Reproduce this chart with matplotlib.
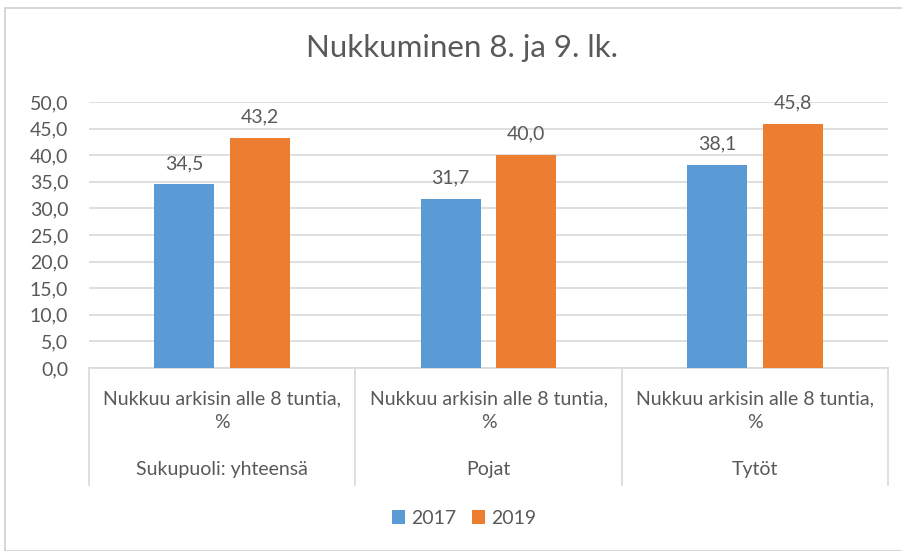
import matplotlib
matplotlib.use("Agg")
import matplotlib.pyplot as plt
from matplotlib.patches import Rectangle
from matplotlib.ticker import FuncFormatter, MultipleLocator
import numpy as np

title = "Nukkuminen 8. ja 9. lk."
groups = ["Sukupuoli: yhteensä", "Pojat", "Tytöt"]
sub_label = "Nukkuu arkisin alle 8 tuntia,\n%"
series_names = ["2017", "2019"]
values_2017 = [34.5, 31.7, 38.1]
values_2019 = [43.2, 40.0, 45.8]
colors = ["#5B9BD5", "#ED7D31"]

plt.rcParams['font.family'] = ['Lato', 'DejaVu Sans']
txt = "#595959"
fs = 14

fig = plt.figure(figsize=(9.02, 5.51), dpi=100)
fig.patches.append(Rectangle((5/902, 0.0), 1.2, 1 - 8/551, transform=fig.transFigure,
                             fill=False, edgecolor="#d0d0d0", linewidth=1.2))
ax = fig.add_axes([89/902, 1 - 368/551, (888-89)/902, (368-102)/551])

x = np.arange(len(groups))
bw = 0.225
off = 0.142
for i, (vals, c) in enumerate(zip([values_2017, values_2019], colors)):
    pos = x + (-off if i == 0 else off)
    bars = ax.bar(pos, vals, width=bw, color=c, label=series_names[i], zorder=3)
    for b, v in zip(bars, vals):
        ax.annotate(f"{v:.1f}".replace(".", ","), (b.get_x() + b.get_width()/2, v),
                    xytext=(0, 9), textcoords="offset points", ha="center", va="bottom",
                    fontsize=fs, color=txt)

ax.set_xlim(-0.5, len(groups) - 0.5)
ax.set_ylim(0, 50)
ax.yaxis.set_major_locator(MultipleLocator(5))
ax.yaxis.set_major_formatter(FuncFormatter(lambda v, p: f"{v:.1f}".replace(".", ",")))
ax.tick_params(axis="y", length=0, labelsize=fs, labelcolor=txt, pad=15)
ax.grid(axis="y", color="#d9d9d9", linewidth=1.2, zorder=0)
for s in ["top", "right", "left"]:
    ax.spines[s].set_visible(False)
ax.spines["bottom"].set_color("#d9d9d9")
ax.spines["bottom"].set_linewidth(1.2)
ax.set_xticks([])

trans = ax.get_xaxis_transform()
for k in range(len(groups) + 1):
    ax.plot([k - 0.5, k - 0.5], [0, -0.44], transform=trans, color="#d9d9d9",
            linewidth=1.2, clip_on=False)
for k, g in enumerate(groups):
    ax.text(k, -0.16, sub_label, transform=trans, ha="center", va="center",
            fontsize=fs, color=txt, linespacing=1.45)
    ax.text(k, -0.38, g, transform=trans, ha="center", va="center",
            fontsize=fs, color=txt)

fig.text(0.512, 1 - 48/551, title, ha="center", va="center", fontsize=22.5, color=txt)
leg = fig.legend(loc="center", bbox_to_anchor=(464/902, 1 - 518/551), ncol=2, frameon=False,
                 fontsize=fs, handlelength=0.7, handleheight=0.7, handletextpad=0.3,
                 columnspacing=0.8)
for t in leg.get_texts():
    t.set_color(txt)

fig.savefig("out.png", dpi=100)
